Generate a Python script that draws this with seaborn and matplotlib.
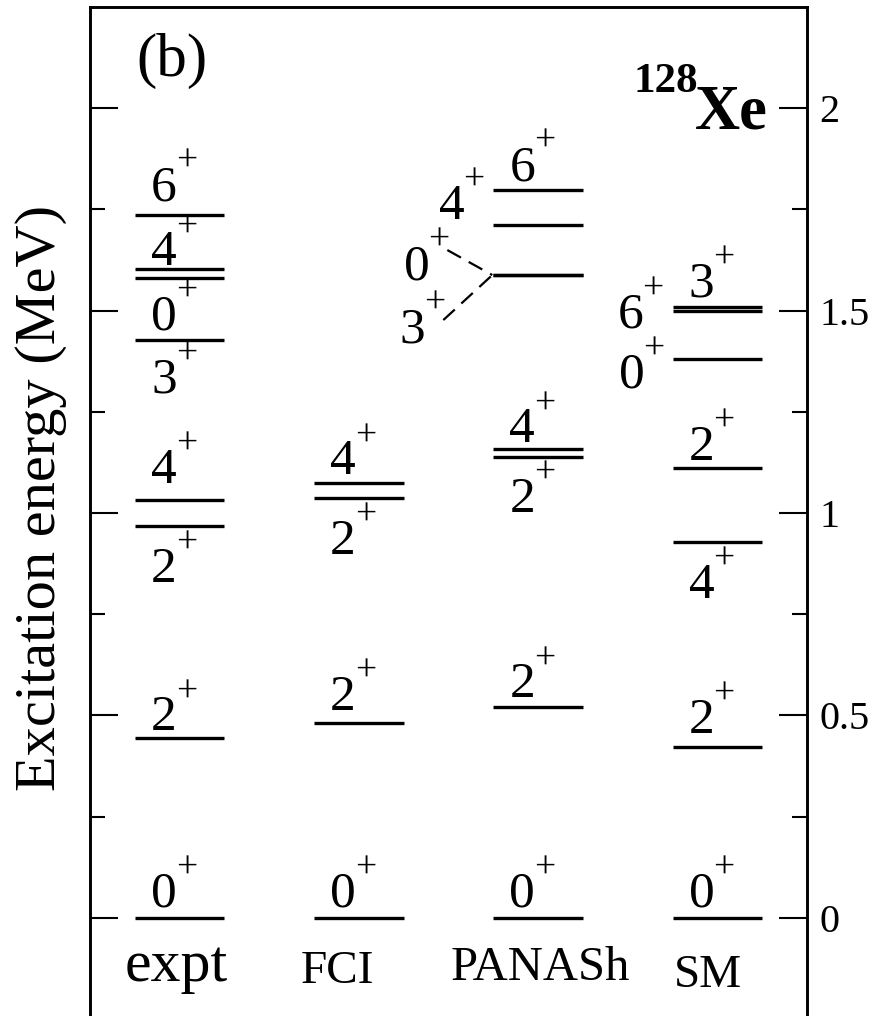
import matplotlib
matplotlib.use("Agg")
import matplotlib.pyplot as plt
import numpy as np
import pandas as pd
import seaborn as sns

# Level schemes of 128Xe (excitation energies in MeV)
methods = ["expt", "FCI", "PANASh", "SM"]

expt_spins = ["0", "2", "2", "4", "3", "0", "4", "6"]
expt_energy = [0.0, 0.443, 0.969, 1.032, 1.427, 1.581, 1.602, 1.736]

fci_spins = ["0", "2", "2", "4"]
fci_energy = [0.0, 0.482, 1.038, 1.073]

panash_spins = ["0", "2", "2", "4", "0", "3", "4", "6"]
panash_energy = [0.0, 0.520, 1.139, 1.157, 1.588, 1.588, 1.712, 1.798]

sm_spins = ["0", "2", "4", "2", "0", "6", "3"]
sm_energy = [0.0, 0.423, 0.929, 1.111, 1.380, 1.498, 1.510]

y_ticks = [0, 0.5, 1, 1.5, 2]
y_tick_labels = ["0", "0.5", "1", "1.5", "2"]

# label placement per level: (kind, dx_px, dy_px); "c" = centred over the bar,
# "l" = to the left of the bar's start.  dx is where the digit ends and the
# parity sign begins, dy is the baseline offset (up positive)
expt_place = [("c", -3, 11), ("c", -3, 8), ("c", -3, -56), ("c", -3, 17),
              ("c", -3, -52), ("c", -3, -52), ("c", -3, 4), ("c", -3, 15)]
fci_place = [("c", -3, 11), ("c", -3, 13), ("c", -3, -56), ("c", -3, 9)]
panash_place = [("c", -3, 11), ("c", -3, 10), ("c", -3, -55), ("c", -3, 7),
                ("l", -64, -4), ("l", -68, -67), ("l", -29, 6), ("c", -3, 10)]
sm_place = [("c", -3, 11), ("c", -3, 14), ("c", -3, -56), ("c", -3, 8),
            ("l", -28, -28), ("l", -29, -16), ("c", -3, 10)]

spins = [expt_spins, fci_spins, panash_spins, sm_spins]
energies = [expt_energy, fci_energy, panash_energy, sm_energy]
places = [expt_place, fci_place, panash_place, sm_place]

sns.set_theme(style="ticks")
plt.rcParams["font.family"] = ["Liberation Serif", "DejaVu Serif"]
plt.rcParams["text.color"] = "black"
plt.rcParams["axes.labelcolor"] = "black"
plt.rcParams["ytick.color"] = "black"
plt.rcParams["xtick.color"] = "black"

fig = plt.figure(figsize=(8.77, 10.16), dpi=100)
ax = fig.add_axes([90 / 877, -0.0029, 717 / 877, 0.9959])

half = 0.25
rows = []
for ci, (sp, en) in enumerate(zip(spins, energies)):
    for li, e in enumerate(en):
        key = f"{methods[ci]}_{li}"
        rows.append({"seg": key, "x": ci + 0.5 - half, "E": e})
        rows.append({"seg": key, "x": ci + 0.5 + half, "E": e})
levels = pd.DataFrame(rows)

sns.lineplot(data=levels, x="x", y="E", units="seg", estimator=None,
             sort=False, color="black", linewidth=2.4, legend=False,
             solid_capstyle="butt", ax=ax)

ax.set_xlim(0, 4)
ax.set_ylim(-0.25, 2.25)

PX = 0.72  # points per pixel at 100 dpi
DIGIT_SIZE = 37
SIGN_SIZE = 27
SIGN_RAISE = 29  # px between digit baseline and sign baseline
for ci, (sp, en, pl) in enumerate(zip(spins, energies, places)):
    for s, e, (kind, dx, dy) in zip(sp, en, pl):
        x = ci + 0.5 if kind == "c" else ci + 0.5 - half
        ax.annotate(s, xy=(x, e), xytext=(dx * PX, dy * PX),
                    textcoords="offset points", ha="right", va="baseline",
                    fontsize=DIGIT_SIZE, color="black")
        ax.annotate("+", xy=(x, e), xytext=((dx - 1) * PX,
                                              (dy + SIGN_RAISE) * PX),
                    textcoords="offset points", ha="left", va="baseline",
                    fontsize=SIGN_SIZE, color="black")

# dashed connectors from the 0+ and 3+ PANASh labels to the shared level
fig.canvas.draw()
start = ax.transData.transform((2 + 0.5 - half, panash_energy[4]))
inv = ax.transData.inverted()
for (sx, sy) in [(-46, 25), (-50, -45)]:
    p0 = inv.transform((start[0] + sx, start[1] + sy))
    p1 = inv.transform((start[0] - 1, start[1]))
    ax.plot([p0[0], p1[0]], [p0[1], p1[1]], color="black", lw=1.6,
            linestyle=(0, (7, 4)))

# column titles
title_x = [0.48, 1.38, 2.51, 3.45]
title_y = [-0.156, -0.161, -0.154, -0.170]
title_size = [43, 34, 35, 34]
for name, tx, ty, fs in zip(methods, title_x, title_y, title_size):
    ax.text(tx, ty, name, ha="center", va="baseline", fontsize=fs,
            color="black")

ax.text(0.457, 2.116, "(b)", ha="center", va="center", fontsize=44,
        color="black")
# nucleus label: mass number raised in front of the element symbol
ax.text(3.782, 1.951, "Xe", ha="right", va="baseline", fontsize=45,
        fontweight="bold", color="black")
ax.text(3.392, 2.040, "128", ha="right", va="baseline", fontsize=31,
        fontweight="bold", color="black")

ax.set_xticks([])
ax.set_yticks(y_ticks)
ax.set_yticklabels(y_tick_labels)
ax.set_yticks([0.25, 0.75, 1.25, 1.75], minor=True)
ax.tick_params(axis="y", which="both", direction="in", left=True, right=True,
               labelleft=False, labelright=True, width=1.5, color="black",
               labelsize=29, pad=9, labelcolor="black")
ax.tick_params(axis="y", which="major", length=20)
ax.tick_params(axis="y", which="minor", length=10.5)
ax.set_xlabel("")
ax.set_ylabel("Excitation energy (MeV)", fontsize=42, color="black")
ax.yaxis.set_label_coords(-0.032, 0.515)
for sp in ax.spines.values():
    sp.set_visible(True)
    sp.set_color("black")
    sp.set_linewidth(2.1)

fig.savefig("out.png", dpi=100, facecolor="white")
